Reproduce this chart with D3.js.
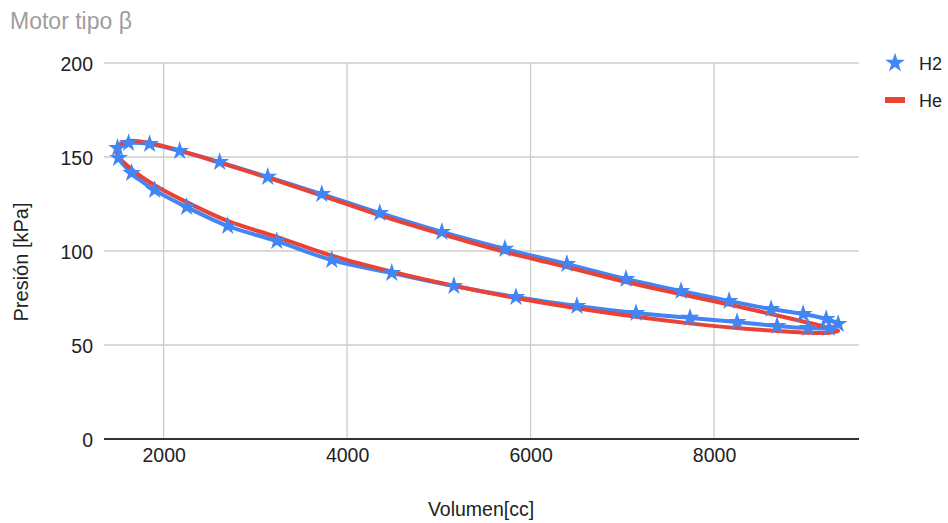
<!DOCTYPE html>
<html><head><meta charset="utf-8">
<script src="https://cdn.jsdelivr.net/npm/d3@7"></script>
<style>body{margin:0;background:#fff}svg{display:block;font-family:"Liberation Sans",Arial,sans-serif}</style>
</head><body><svg id="c" width="948" height="523"></svg>
<script>
// Volumes (cc) around the cycle: upper branch (right→left) then lower branch (left→right)
const volume = [9353,9222,8971,8622,8164,7640,7040,6396,5720,5033,4356,3724,3135,2611,2175,1847,1618,1498,
                1509,1651,1902,2251,2698,3233,3833,4487,5164,5840,6505,7149,7738,8251,8687,9025,9255];
const presH2 = [61.2,63.8,66.5,69.1,73.4,78.7,85.1,93.1,101.1,110.1,120.2,130.3,139.4,147.3,153.2,156.9,157.4,154.8,
                149.5,141.5,132.4,123.4,113.3,105.3,95.2,88.3,81.4,75.5,70.7,67.0,64.4,62.2,60.1,59.0,59.0];
const presHe = [57.5,59.5,62.5,66.5,71.5,77.0,83.5,91.5,99.5,109.0,119.0,129.5,139.0,147.0,153.5,157.5,158.5,155.5,
                150.5,143.5,135.0,126.0,116.0,107.5,97.5,89.0,81.5,75.0,69.5,65.0,61.5,59.0,57.5,56.5,56.5];
const xTicks = [2000,4000,6000,8000];
const yTicks = [0,50,100,150,200];
const seriesNames = ["H2","He"];
const colors = ["#4285F4","#EA4335"];
const FONT = '"Liberation Sans",Arial,sans-serif';

const svg = d3.select("#c");
const x = d3.scaleLinear().domain([1350,9580]).range([104,859]);
const y = d3.scaleLinear().domain([0,200]).range([439,63]);

// gridlines
svg.append("g").selectAll("line").data(yTicks.filter(d=>d>0)).join("line")
  .attr("x1",104).attr("x2",859).attr("y1",d=>y(d)).attr("y2",d=>y(d))
  .attr("stroke","#cccccc").attr("stroke-width",1.3);
svg.append("g").selectAll("line").data(xTicks).join("line")
  .attr("x1",d=>x(d)).attr("x2",d=>x(d)).attr("y1",63).attr("y2",439)
  .attr("stroke","#cccccc").attr("stroke-width",1.3);

// axes labels
const yAxis = d3.axisLeft(y).tickValues(yTicks).tickSize(0).tickPadding(11);
const gy = svg.append("g").attr("transform","translate(104,0)").call(yAxis);
gy.select(".domain").remove();
gy.selectAll("text").attr("font-size",19.5).attr("fill","#222").attr("font-family",FONT).attr("dy","0.36em");

const xAxis = d3.axisBottom(x).tickValues(xTicks).tickSize(0).tickPadding(0).tickFormat(d3.format("d"));
const gx = svg.append("g").attr("transform","translate(0,439)").call(xAxis);
gx.select(".domain").remove();
gx.selectAll("text").attr("font-size",19.5).attr("fill","#222").attr("font-family",FONT).attr("y",23).attr("dy",0);

// baseline
svg.append("line").attr("x1",104).attr("x2",859).attr("y1",y(0)).attr("y2",y(0))
  .attr("stroke","#333").attr("stroke-width",1.8);

// lines
const line = d3.line().x(d=>x(d[0])).y(d=>y(d[1])).curve(d3.curveCatmullRomClosed.alpha(0.5));
const dH2 = volume.map((v,i)=>[v,presH2[i]]);
const dHe = volume.map((v,i)=>[v,presHe[i]]);
svg.append("path").attr("d",line(dH2)).attr("fill","none").attr("stroke",colors[0]).attr("stroke-width",4);
svg.append("path").attr("d",line(dHe)).attr("fill","none").attr("stroke",colors[1]).attr("stroke-width",4);

const star = d3.symbol().type(d3.symbolStar).size(110);
svg.append("g").selectAll("path").data(dH2).join("path")
  .attr("d",star).attr("transform",d=>`translate(${x(d[0])},${y(d[1])})`).attr("fill",colors[0]);

// title
svg.append("text").attr("x",10).attr("y",29).attr("font-size",23).attr("fill","#9e9e9e").text("Motor tipo β");
// axis titles
svg.append("text").attr("x",481).attr("y",516).attr("text-anchor","middle").attr("font-size",19.5).attr("fill","#222").text("Volumen[cc]");
svg.append("text").attr("transform","translate(28,262) rotate(-90)").attr("text-anchor","middle").attr("font-size",20).attr("fill","#222").text("Presión [kPa]");

// legend
const lg = svg.append("g");
lg.append("path").attr("d",d3.symbol().type(d3.symbolStar).size(120)).attr("transform","translate(895,63)").attr("fill",colors[0]);
lg.append("rect").attr("x",885).attr("y",97).attr("width",20).attr("height",6).attr("fill",colors[1]);
lg.selectAll("text").data(seriesNames).join("text").attr("x",919).attr("y",(d,i)=>69.5+i*37.5)
  .attr("font-size",18).attr("fill","#222").text(d=>d);
</script></body></html>
